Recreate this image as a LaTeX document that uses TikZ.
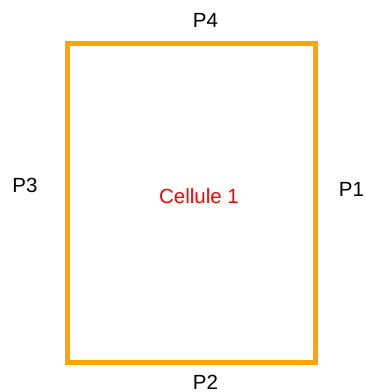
\documentclass[tikz,border=0pt]{standalone}
\usepackage{fontspec}
\setmainfont{Liberation Sans}
\usepackage{tikz}
\usetikzlibrary{positioning}
\definecolor{wallorange}{RGB}{255,165,0}

\begin{document}
\begin{tikzpicture}[x=1pt,y=1pt,thick]
\useasboundingbox (0,0) rectangle (366,392);
\tikzset{wall/.style={draw=wallorange,line width=5pt,miter limit=10},
         plabel/.style={anchor=base,inner sep=0pt,font=\fontsize{20.5}{24}\selectfont}}

\draw[wall] (67.5,348.5) rectangle (315.5,29);

\node at (205.5,364) [plabel] (p4) {P4};
\node at (25,200) [plabel] (p3) {P3};
\node at (351.5,195) [plabel] (p1) {P1};
\node at (205.5,2) [plabel] (p2) {P2};
\node at (199,189) [plabel,text=red] (cellule) {Cellule 1};
\end{tikzpicture}
\end{document}
